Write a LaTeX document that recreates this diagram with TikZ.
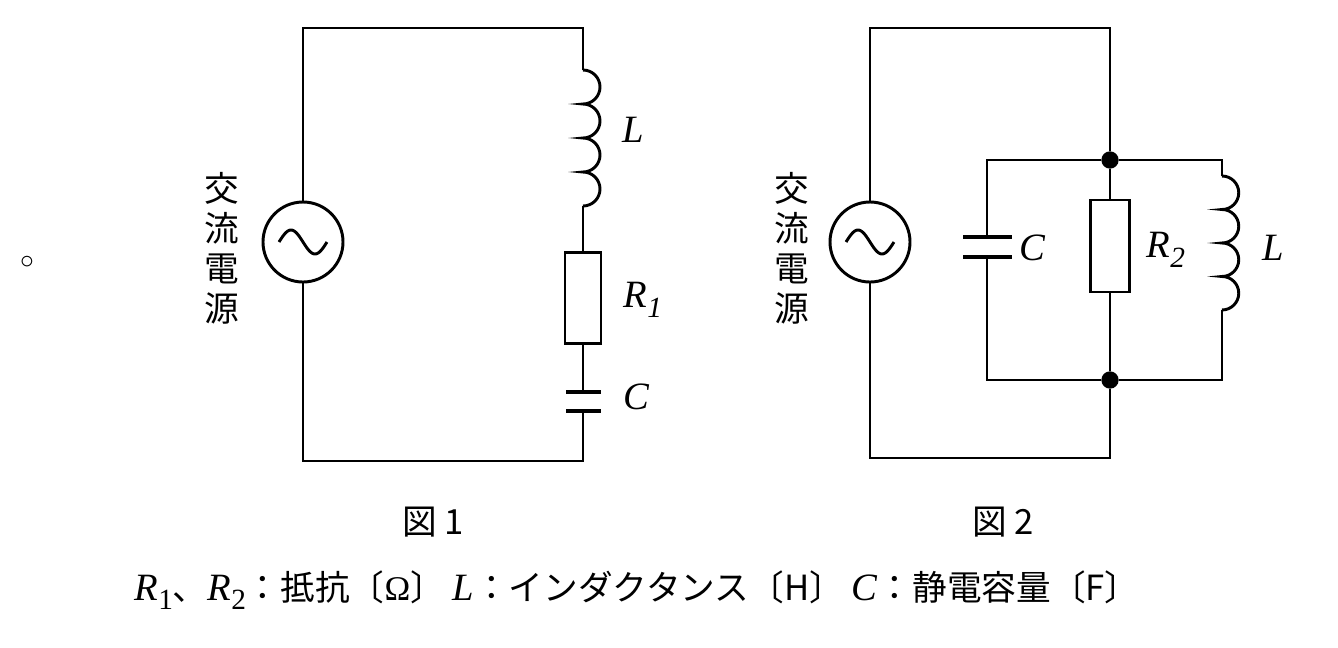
\documentclass[tikz,border=0pt]{standalone}
\usepackage{fontspec}
\newfontfamily\cjk{Noto Sans CJK JP}
\newfontfamily\ser{Liberation Serif}
\newcommand{\itv}[1]{{\ser\itshape\fontsize{29}{30}\selectfont #1}}
\newcommand{\subv}[1]{\raisebox{-0.25em}{\ser\fontsize{22}{24}\selectfont #1}}
\begin{document}
\begin{tikzpicture}[x=0.75pt,y=-0.75pt,
  w/.style={line width=2.2pt},
  lbl/.style={font=\ser\itshape\fontsize{29}{30}\selectfont},
  jp/.style={font=\cjk\fontsize{26}{30}\selectfont},
  dot/.style={circle,fill,inner sep=0pt,minimum size=13pt}]
\useasboundingbox (0,0) rectangle (1338,647);
% ---- Figure 1
\node[w,draw,circle,minimum size=60pt,inner sep=0pt] (s1) at (303,242) {};
\begin{scope}[shift={(303,242)}]
\draw[w] plot[domain=-1:1,samples=40,smooth] (\x*24,{12*sin(\x*180)});
\end{scope}
\coordinate (a1) at (303,28); \coordinate (b1) at (583,28);
\coordinate (c1) at (583,461); \coordinate (d1) at (303,461);
\draw[w] (s1.north) -- (a1) -- (b1) -- (583,70);
\draw[w] (583,70) arc[start angle=90,end angle=-90,radius=12.75pt] arc[start angle=90,end angle=-90,radius=12.75pt] arc[start angle=90,end angle=-90,radius=12.75pt] arc[start angle=90,end angle=-90,radius=12.75pt];
\node[w,draw,minimum width=27pt,minimum height=68pt,inner sep=0pt] (r1) at (583,298) {};
\draw[w] (583,206) -- (r1.north);
\draw[w] (r1.south) -- (583,392);
\draw[line width=3pt] (566,392) -- (601,392) (566,411) -- (601,411);
\draw[w] (583,411) -- (c1) -- (d1) -- (s1.south);
\node[lbl] (L1) at (633,130) {L};
\node[lbl] (R1) at (643,300) {R\subv{1}};
\node[lbl] (C1) at (636,397) {C};
\node[jp,align=center] (t1) at (222,248) {交\\流\\電\\源};
\node[jp] (f1) at (433,522) {図 1};
\node[font=\fontsize{20}{20}\selectfont] (o) at (27,262) {$\circ$};
% ---- Figure 2
\node[w,draw,circle,minimum size=60pt,inner sep=0pt] (s2) at (870,242) {};
\begin{scope}[shift={(870,242)}]
\draw[w] plot[domain=-1:1,samples=40,smooth] (\x*24,{12*sin(\x*180)});
\end{scope}
\node[dot] (n1) at (1110,160) {};
\node[dot] (n2) at (1110,380) {};
\draw[w] (s2.north) -- (870,28) -- (1110,28) -- (n1);
\draw[w] (s2.south) -- (870,458) -- (1110,458) -- (n2);
\draw[w] (n1) -- (987,160) -- (987,237);
\draw[line width=3pt] (963,237) -- (1012,237) (963,257) -- (1012,257);
\draw[w] (987,257) -- (987,380) -- (n2);
\node[w,draw,minimum width=29pt,minimum height=69pt,inner sep=0pt] (r2) at (1110,246) {};
\draw[w] (n1) -- (r2.north) (r2.south) -- (n2);
\draw[w] (n1) -- (1222,160) -- (1222,176);
\draw[w] (1222,176) arc[start angle=90,end angle=-90,radius=12.56pt] arc[start angle=90,end angle=-90,radius=12.56pt] arc[start angle=90,end angle=-90,radius=12.56pt] arc[start angle=90,end angle=-90,radius=12.56pt];
\draw[w] (1222,310) -- (1222,380) -- (n2);
\node[lbl] (C2) at (1032,248) {C};
\node[lbl] (R2) at (1166,250) {R\subv{2}};
\node[lbl] (L2) at (1273,248) {L};
\node[jp,align=center] (t2) at (792,248) {交\\流\\電\\源};
\node[jp] (f2) at (1003,522) {図 2};
% ---- legend
\node[font=\cjk\fontsize{26}{30}\selectfont,anchor=west] (leg) at (130,590) {\itv{R}\subv{1}、\itv{R}\subv{2}：抵抗〔{\ser Ω}〕\ \itv{L}：インダクタンス〔H〕\ \itv{C}：静電容量〔F〕};
\end{tikzpicture}
\end{document}
